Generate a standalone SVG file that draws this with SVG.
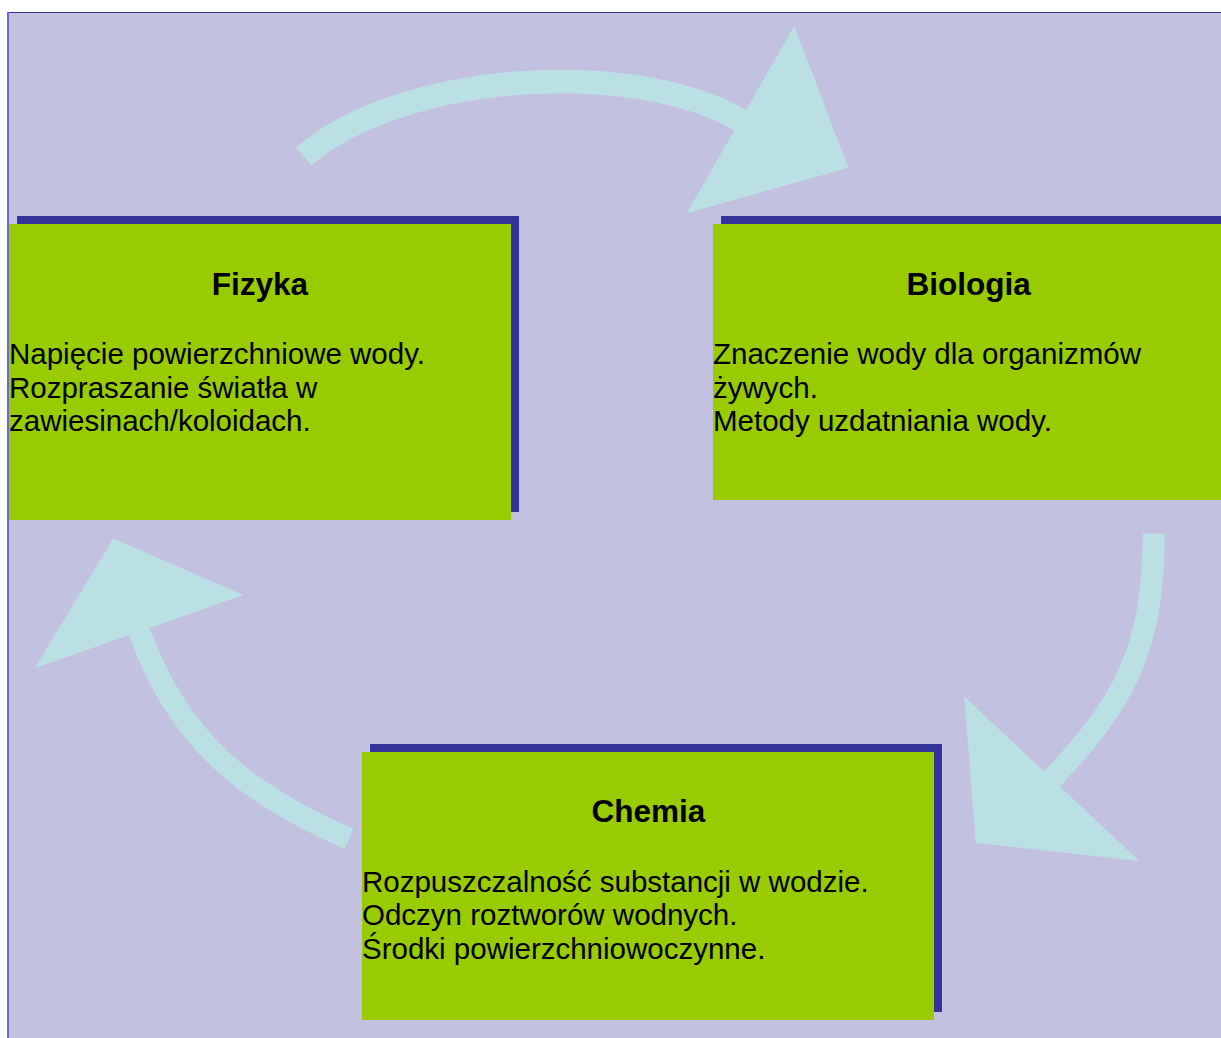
<svg xmlns="http://www.w3.org/2000/svg" width="1221" height="1038" viewBox="0 0 1221 1038">
<style>
.bg{fill:#C2C2E0}
.shadow{fill:#333399}
.box{fill:#99CC00}
.shaft{fill:none;stroke:#BBE0E3;stroke-linecap:butt}
.head{fill:#BBE0E3}
.title{font-family:"Liberation Sans",Arial,sans-serif;font-weight:bold;font-size:31.5px;fill:#000;text-anchor:middle}
.body{font-family:"Liberation Sans",Arial,sans-serif;font-size:29.5px;fill:#000}
</style>
<rect x="0" y="0" width="1221" height="1038" fill="#FFFFFF"/>
<rect class="bg" x="8" y="12" width="1213" height="1026"/>
<line x1="8" y1="12.5" x2="1221" y2="12.5" stroke="#333399" stroke-width="1"/>
<line x1="8" y1="12" x2="8" y2="1038" stroke="#6A6AC8" stroke-width="2"/>

<g id="connectors">
  <path class="shaft" stroke-width="23.5" d="M303.7,156.5 C399.5,73.2 629.6,56.5 741,120.5"/>
  <polygon class="head" points="794.3,26 848.3,167.7 686.7,213.3"/>
  <path class="shaft" stroke-width="22" d="M1153.7,533.7 C1153.7,653.7 1121.4,705 1051.5,779.5"/>
  <polygon class="head" points="964.3,696.7 975.7,842.7 1139.3,861"/>
  <path class="shaft" stroke-width="22" d="M349,839 C248.1,795 177.8,740.9 139.2,630.8"/>
  <polygon class="head" points="113.3,538.4 243.3,595.1 34.7,668.2"/>
</g>

<g id="node-fizyka">
  <rect class="shadow" x="17" y="216" width="502" height="296"/>
  <rect class="box" x="9" y="224" width="502" height="296"/>
  <text class="title" x="260" y="295">Fizyka</text>
  <text class="body" x="9" y="364">Napięcie powierzchniowe wody.</text>
  <text class="body" x="9" y="397.5">Rozpraszanie światła w</text>
  <text class="body" x="9" y="431">zawiesinach/koloidach.</text>
</g>

<g id="node-biologia">
  <rect class="shadow" x="721" y="216" width="520" height="276"/>
  <rect class="box" x="713" y="224" width="520" height="276"/>
  <text class="title" x="968.7" y="295">Biologia</text>
  <text class="body" x="713" y="364">Znaczenie wody dla organizmów</text>
  <text class="body" x="713" y="397.5">żywych.</text>
  <text class="body" x="713" y="431">Metody uzdatniania wody.</text>
</g>

<g id="node-chemia">
  <rect class="shadow" x="370" y="744" width="572" height="268"/>
  <rect class="box" x="362" y="752" width="572" height="268"/>
  <text class="title" x="648.3" y="822">Chemia</text>
  <text class="body" x="362" y="891.5">Rozpuszczalność substancji w wodzie.</text>
  <text class="body" x="362" y="925">Odczyn roztworów wodnych.</text>
  <text class="body" x="362" y="958.5">Środki powierzchniowoczynne.</text>
</g>
</svg>
